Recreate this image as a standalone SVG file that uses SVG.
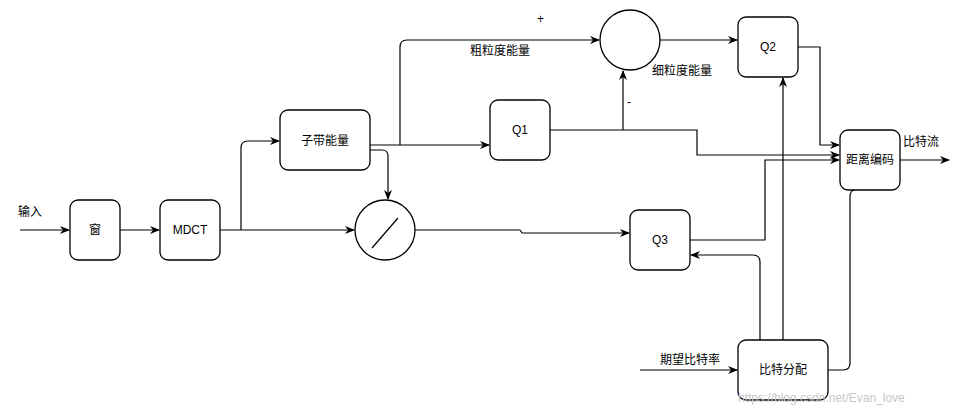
<svg xmlns="http://www.w3.org/2000/svg" width="969" height="411" viewBox="0 0 969 411">
<style>
.n{fill:#fff;stroke:#000;stroke-width:1.3}
.t{font-family:"Liberation Sans","Noto Sans CJK SC",sans-serif;font-size:12px;fill:#000}
.c{text-anchor:middle;dominant-baseline:central}
.e{fill:none;stroke:#000;stroke-width:1.2}
</style>
<defs><marker id="a" markerWidth="10" markerHeight="8" refX="9" refY="4" orient="auto" markerUnits="userSpaceOnUse"><path d="M0,0L10,4L0,8L3,4z" fill="#000"/></marker></defs>
<rect width="969" height="411" fill="#fff"/>
<g id="connectors">
<path class="e" d="M20,230H69" marker-end="url(#a)"/>
<path class="e" d="M120,230H159" marker-end="url(#a)"/>
<path class="e" d="M220,230H354" marker-end="url(#a)"/>
<path class="e" d="M241,230V148Q241,141 248,141H279" marker-end="url(#a)"/>
<path class="e" d="M370,145H489" marker-end="url(#a)"/>
<path class="e" d="M370,150H382Q388,150 388,156L388,199" marker-end="url(#a)"/>
<path class="e" d="M400,145V47Q400,40 407,40H599" marker-end="url(#a)"/>
<path class="e" d="M550,130H697V155H839" marker-end="url(#a)"/>
<path class="e" d="M623,130V71" marker-end="url(#a)"/>
<path class="e" d="M660,40H737" marker-end="url(#a)"/>
<path class="e" d="M798,47H820V145H839" marker-end="url(#a)"/>
<path class="e" d="M690,240H765V160H839" marker-end="url(#a)"/>
<path class="e" d="M783,340V78" marker-end="url(#a)"/>
<path class="e" d="M760,340V262Q760,255 753,255H691" marker-end="url(#a)"/>
<path class="e" d="M855,190Q850,190 850,197V363Q850,370 843,370H799" marker-end="url(#a)"/>
<path class="e" d="M900,160H949" marker-end="url(#a)"/>
<path class="e" d="M640,370H737" marker-end="url(#a)"/>
<path class="e" d="M415,230H520L522,233H629" marker-end="url(#a)"/>
</g>
<g id="win"><rect class="n" x="70" y="200" width="50" height="60" rx="8"/><text class="t c" x="95" y="230">窗</text></g>
<g id="mdct"><rect class="n" x="160" y="200" width="60" height="60" rx="8"/><text class="t c" x="190" y="230">MDCT</text></g>
<g id="subband"><rect class="n" x="280" y="110" width="90" height="60" rx="8"/><text class="t c" x="325" y="141">子带能量</text></g>
<g id="q1"><rect class="n" x="490" y="100" width="60" height="60" rx="8"/><text class="t c" x="520" y="130">Q1</text></g>
<g id="div"><circle class="n" cx="385" cy="230" r="30"/><path class="e" d="M372,248L398,218"/></g>
<g id="sum"><circle class="n" cx="630" cy="40" r="30"/></g>
<g id="q2"><rect class="n" x="738" y="17" width="60" height="60" rx="8"/><text class="t c" x="768" y="47">Q2</text></g>
<g id="q3"><rect class="n" x="630" y="210" width="60" height="60" rx="8"/><text class="t c" x="660" y="240">Q3</text></g>
<g id="enc"><rect class="n" x="840" y="130" width="60" height="60" rx="8"/><text class="t c" x="870" y="160">距离编码</text></g>
<g id="alloc"><rect class="n" x="738" y="340" width="90" height="60" rx="8"/><text class="t c" x="783" y="370">比特分配</text></g>
<g id="labels">
<text class="t" x="18" y="216">输入</text>
<text class="t" x="470" y="55">粗粒度能量</text>
<text class="t" x="537" y="23" font-size="10">+</text>
<text class="t" x="652" y="75">细粒度能量</text>
<text class="t" x="627" y="106">-</text>
<text class="t" x="903" y="146">比特流</text>
<text class="t" x="660" y="364">期望比特率</text>
<text class="t" x="738" y="402" font-size="14" fill="#c8c8c8" style="fill:#c8c8c8">https://blog.csdn.net/Evan_love</text>
</g>
</svg>
